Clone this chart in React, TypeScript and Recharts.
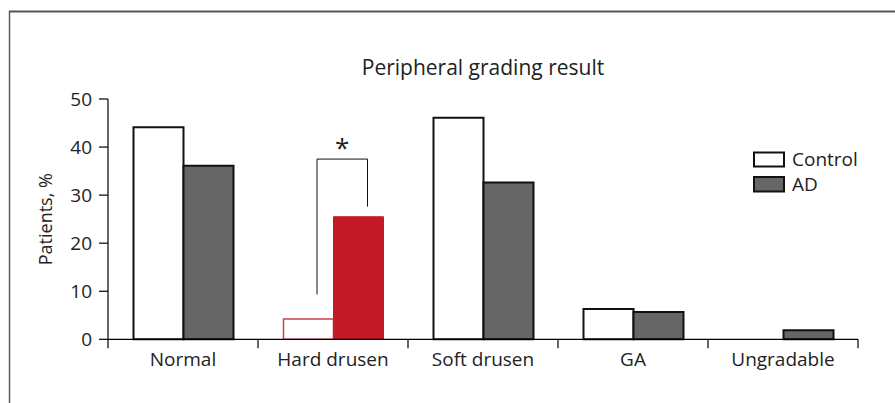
import React from 'react';
import { BarChart, Bar, XAxis, YAxis, Cell, LabelList } from 'recharts';

const categories = ['Normal', 'Hard drusen', 'Soft drusen', 'GA', 'Ungradable'];
const controlValues = [44.1, 4.2, 46.1, 6.3, 0];
const adValues = [36.1, 25.5, 32.6, 5.7, 1.9];
const yTicks = [0, 10, 20, 30, 40, 50];
const seriesNames = ['Control', 'AD'];
const highlightIndex = 1;
const bracketLow = 9.3;
const bracketTop = 37.5;
const bracketRightLow = 27.6;

const data = categories.map((c, i) => ({ name: c, control: controlValues[i], ad: adValues[i] }));

const FONT = '"Open Sans", "Noto Sans", sans-serif';
const RED = '#c41a28';
const RED_LIGHT = '#d2404c';
const GRAY = '#666666';
const TEXT = '#222222';

const XTick = (props: any) => {
  const { x, y, payload, width, visibleTicksCount, index } = props;
  const bw = width / visibleTicksCount;
  const left = x - bw / 2;
  const right = x + bw / 2;
  return (
    <g>
      <line x1={left} x2={left} y1={y} y2={y + 9} stroke="#000" strokeWidth={1.2} />
      {index === visibleTicksCount - 1 && (
        <line x1={right} x2={right} y1={y} y2={y + 9} stroke="#000" strokeWidth={1.2} />
      )}
      <text x={x} y={y + 27} textAnchor="middle" fontSize={19} fill={TEXT} fontFamily={FONT}>
        {payload.value}
      </text>
    </g>
  );
};

const Bracket = (props: any) => {
  const { index, value } = props;
  if (index !== highlightIndex) return null;
  const vb = props.viewBox || {};
  const x = props.x ?? vb.x;
  const y = props.y ?? vb.y;
  const w = props.width ?? vb.width;
  const h = props.height ?? vb.height;
  const ppu = h / value;
  const base = y + h;
  const lx = x - w + 0.67 * w;
  const rx = x + 0.68 * w;
  const yTop = base - bracketTop * ppu;
  const yLow = base - bracketLow * ppu;
  const yRight = base - bracketRightLow * ppu;
  return (
    <g>
      <polyline
        points={`${lx},${yLow} ${lx},${yTop} ${rx},${yTop} ${rx},${yRight}`}
        fill="none"
        stroke="#111"
        strokeWidth={1}
      />
      <text x={(lx + rx) / 2} y={yTop - 2} textAnchor="middle" fontSize={26} fill={TEXT} fontFamily={FONT}>
        *
      </text>
    </g>
  );
};

export default function App() {
  return (
    <div style={{ position: 'absolute', left: 0, top: 0, width: 895, height: 403, background: '#fff', overflow: 'hidden', fontFamily: FONT }}>
      <div style={{ position: 'absolute', left: 0, top: 0 }}>
        <BarChart
          width={895}
          height={403}
          data={data}
          margin={{ top: 99, right: 37, bottom: 23.7, left: 48 }}
          barCategoryGap="17%"
          barGap={0}
        >
          <XAxis
            dataKey="name"
            type="category"
            height={40}
            tickLine={false}
            tickSize={0}
            tickMargin={0}
            axisLine={{ stroke: '#000', strokeWidth: 1.2 }}
            tick={<XTick />}
            interval={0}
          />
          <YAxis
            type="number"
            domain={[0, 50]}
            ticks={yTicks}
            width={60}
            tickSize={9}
            tickMargin={7}
            axisLine={{ stroke: '#000', strokeWidth: 1.2 }}
            tickLine={{ stroke: '#000', strokeWidth: 1.2 }}
            tick={{ fill: TEXT, fontSize: 19, fontFamily: FONT }}
            label={{
              content: (p: any) => {
                const vb = p.viewBox || { x: 48, y: 99, height: 240 };
                return (
                  <text
                    x={vb.x - 3}
                    y={vb.y + vb.height / 2}
                    transform={`rotate(-90, ${vb.x - 3}, ${vb.y + vb.height / 2})`}
                    textAnchor="middle"
                    dominantBaseline="central"
                    fontSize={18}
                    fill={TEXT}
                    fontFamily={FONT}
                  >
                    Patients, %
                  </text>
                );
              },
            }}
          />
          <Bar dataKey="control" name={seriesNames[0]} fill="#fff" stroke="#111" strokeWidth={2} isAnimationActive={false}>
            {data.map((d, i) => (
              <Cell
                key={d.name}
                fill="#fff"
                stroke={i === highlightIndex ? RED_LIGHT : '#111'}
                strokeWidth={i === highlightIndex ? 1.5 : 2}
              />
            ))}
          </Bar>
          <Bar dataKey="ad" name={seriesNames[1]} fill={GRAY} stroke="#111" strokeWidth={2} isAnimationActive={false}>
            {data.map((d, i) => (
              <Cell
                key={d.name}
                fill={i === highlightIndex ? RED : GRAY}
                stroke={i === highlightIndex ? RED : '#111'}
                strokeWidth={i === highlightIndex ? 1 : 2}
              />
            ))}
            <LabelList dataKey="ad" content={<Bracket />} />
          </Bar>
        </BarChart>
      </div>
      <svg width={895} height={403} style={{ position: 'absolute', left: 0, top: 0, pointerEvents: 'none' }}>
        <line x1={9} y1={11.5} x2={895} y2={11.5} stroke="#555" strokeWidth={2} />
        <line x1={9.5} y1={11} x2={9.5} y2={403} stroke="#555" strokeWidth={1.4} />
        <text x={483} y={75} textAnchor="middle" fontSize={21} fill={TEXT} fontFamily={FONT}>
          Peripheral grading result
        </text>
        <g transform="translate(753,151)">
          <rect x={1} y={1.5} width={30} height={14} fill="#fff" stroke="#111" strokeWidth={2} />
          <text x={39} y={15} fontSize={19} fill={TEXT} fontFamily={FONT}>{seriesNames[0]}</text>
          <rect x={1} y={26} width={30} height={14.5} fill={GRAY} stroke="#111" strokeWidth={2} />
          <text x={39} y={40} fontSize={19} fill={TEXT} fontFamily={FONT}>{seriesNames[1]}</text>
        </g>
      </svg>
    </div>
  );
}
